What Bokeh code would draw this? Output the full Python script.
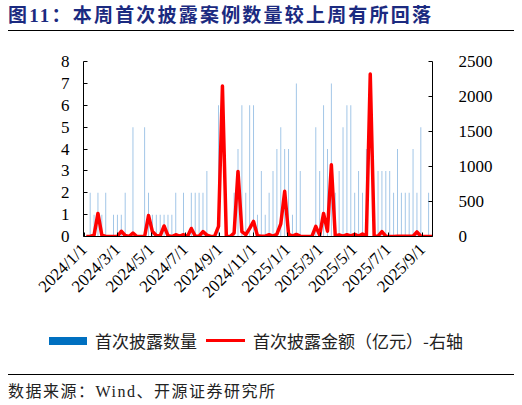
import math
import pandas as pd
from bokeh.plotting import figure
from bokeh.models import (Range1d, LinearAxis, FixedTicker, CustomJSTickFormatter,
                          Div, ColumnDataSource)
from bokeh.layouts import column
from bokeh.embed import file_html
from bokeh.resources import INLINE

# weekly data (Fridays)
start_date = "2024-01-05"
counts = [0, 2, 1, 2, 1, 2, 0, 1, 1, 1,
          2, 0, 5, 0, 0, 5, 2, 1, 1, 1,
          1, 1, 1, 2, 0, 2, 0, 2, 2, 2,
          2, 3, 0, 0, 6, 0, 0, 0, 2, 4,
          6, 2, 6, 6, 1, 3, 1, 2, 3, 4,
          5, 4, 4, 1, 7, 3, 0, 0, 0, 5,
          3, 6, 4, 7, 2, 3, 5, 6, 6, 2,
          3, 2, 4, 0, 0, 3, 3, 3, 3, 2,
          4, 2, 2, 2, 4, 2, 5, 0, 2, 0]
amounts = [0, 0, 20, 330, 20, 0, 0, 0, 0, 75,
           15, 0, 50, 0, 0, 0, 300, 70, 15, 10,
           150, 12, 0, 25, 5, 25, 0, 115, 8, 5,
           70, 20, 0, 5, 145, 2150, 0, 0, 50, 930,
           70, 25, 115, 215, 12, 5, 5, 25, 5, 33,
           180, 645, 33, 5, 29, 5, 0, 0, 0, 145,
           20, 330, 75, 1025, 8, 24, 5, 25, 8, 29,
           5, 35, 5, 2320, 5, 5, 70, 5, 0, 0,
           5, 5, 5, 5, 5, 65, 5, 0, 0, 0]
tick_dates = ["2024-01-01", "2024-03-01", "2024-05-01", "2024-07-01", "2024-09-01",
              "2024-11-01", "2025-01-01", "2025-03-01", "2025-05-01", "2025-07-01",
              "2025-09-01"]
left_ticks = [0, 1, 2, 3, 4, 5, 6, 7, 8]
right_ticks = [0, 500, 1000, 1500, 2000, 2500]

title_text = "图11：本周首次披露案例数量较上周有所回落"
source_text = "数据来源：Wind、开源证券研究所"
label_count = "首次披露数量"
label_amount = "首次披露金额（亿元）-右轴"

dates = pd.date_range(start_date, periods=len(counts), freq="7D")
source = ColumnDataSource(data=dict(date=dates, n=counts, amt=amounts))

DAY = 86400000
p = figure(width=506, height=291, x_axis_type="datetime",
           x_range=Range1d(pd.Timestamp("2023-12-31"), pd.Timestamp("2025-09-19")),
           y_range=Range1d(0, 8), output_backend="svg", toolbar_location=None,
           min_border_left=75, min_border_right=82, min_border_top=27,
           min_border_bottom=89, margin=(0, 0, 0, 8))
p.extra_y_ranges = {"amt": Range1d(0, 2500)}
p.xgrid.visible = False
p.ygrid.visible = False
p.outline_line_color = None

p.vbar(x="date", top="n", width=1.7 * DAY, source=source,
       fill_color="#9DC3E6", line_color=None)
p.line("date", "amt", source=source, y_range_name="amt",
       line_color="#FF0000", line_width=3.5, line_join="round")

ax_r = LinearAxis(y_range_name="amt")
p.add_layout(ax_r, "right")

p.xaxis.ticker = FixedTicker(ticks=[pd.Timestamp(d).value // 10**6 for d in tick_dates])
p.xaxis.formatter = CustomJSTickFormatter(code="""
    const d = new Date(tick);
    return d.getUTCFullYear() + '/' + (d.getUTCMonth() + 1) + '/' + d.getUTCDate();
""")
p.xaxis.major_label_orientation = math.pi / 4
p.xaxis.major_label_text_font_size = "17px"
p.xaxis.major_label_standoff = 10

p.yaxis[0].ticker = FixedTicker(ticks=left_ticks)
ax_r.ticker = FixedTicker(ticks=right_ticks)
for ax in [p.xaxis[0], p.yaxis[0], ax_r]:
    ax.axis_line_color = "black"
    ax.major_tick_line_color = "black"
    ax.major_tick_in = 4
    ax.major_tick_out = 0
    ax.minor_tick_line_color = None
    ax.major_label_text_font = "Liberation Serif"
    ax.major_label_text_color = "black"
p.yaxis[0].major_label_text_font_size = "17px"
ax_r.major_label_text_font_size = "17px"
p.yaxis[0].major_label_standoff = 14
ax_r.major_label_standoff = 26

title = Div(width=506, height=26, margin=(8, 0, 0, 8), text=(
    '<div style="font-family:\'Liberation Serif\',\'Noto Sans CJK SC\';font-weight:bold;'
    'font-size:19px;letter-spacing:2.2px;color:#1B2A80;line-height:16px;'
    'padding-bottom:6px;border-bottom:1px solid #000;width:506px;white-space:nowrap;">'
    + title_text + '</div>'))

# legend drawn as a strip of html under the chart
legend = Div(width=506, height=32, margin=(0, 0, 0, 8), text=(
    '<div style="position:relative;width:506px;height:32px;font-family:\'Noto Sans CJK SC\';'
    'font-size:17px;color:#222;white-space:nowrap;">'
    '<span style="position:absolute;left:41px;top:12px;width:38px;height:8px;background:#0070C0;"></span>'
    '<span style="position:absolute;left:87px;top:6px;line-height:20px;">' + label_count + '</span>'
    '<span style="position:absolute;left:198px;top:14px;width:39px;height:3px;background:#FF0000;"></span>'
    '<span style="position:absolute;left:245px;top:6px;line-height:20px;">' + label_amount + '</span>'
    '</div>'))

footer = Div(width=506, height=40, margin=(0, 0, 0, 8), text=(
    '<div style="margin-top:17px;border-top:1px solid #000;width:506px;padding-top:9px;'
    'font-family:\'Liberation Serif\',\'Noto Sans CJK SC\';font-size:16px;line-height:16px;'
    'letter-spacing:1.5px;color:#222;white-space:nowrap;">' + source_text + '</div>'))

layout = column(title, p, legend, footer, spacing=0)
open("out.html", "w").write(file_html(layout, INLINE))
